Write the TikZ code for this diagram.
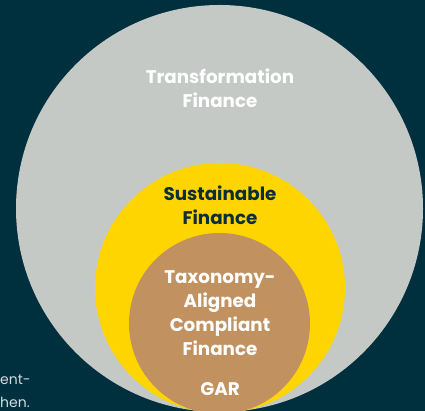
\documentclass[tikz,border=0pt]{standalone}
\usepackage{fontspec}
\setmainfont{Poppins}
\definecolor{bgc}{HTML}{002F3D}
\definecolor{greyc}{HTML}{C4C9C6}
\definecolor{yelc}{HTML}{FFD500}
\definecolor{brownc}{HTML}{C1925F}
\definecolor{darkc}{HTML}{0A2E3A}
\definecolor{sidec}{HTML}{D6DCDE}
\tikzset{
  lbl/.style={font=\fontsize{18.3}{24}\selectfont\bfseries, align=center, inner sep=0pt},
  side/.style={font=\fontsize{14}{22}\selectfont, text=sidec, align=left, inner sep=0pt, anchor=west}
}
\begin{document}
\begin{tikzpicture}[x=1pt,y=-1pt]
\useasboundingbox (0,0) rectangle (425,411);
\begin{scope}
\clip (0,0) rectangle (425,411);
\fill[bgc] (0,0) rectangle (425,411);
\fill[greyc] (219.5,208.5) circle (203.5);
\fill[yelc] (220,288) circle (125);
\fill[brownc] (219.5,323.5) circle (90.5);
\end{scope}
\node[lbl, text=white] (tf) at (220,88) {Transformation\\Finance};
\node[lbl, text=darkc] (sf) at (220,205) {Sustainable\\Finance};
\node[lbl, text=white] (tac) at (220,313) {Taxonomy-\\Aligned\\Compliant\\Finance};
\node[lbl, text=white] (gar) at (220,389) {GAR};
\node[side] (s1) at (0,380) {ent-};
\node[side] (s2) at (0,402) {hen.};
\end{tikzpicture}
\end{document}
